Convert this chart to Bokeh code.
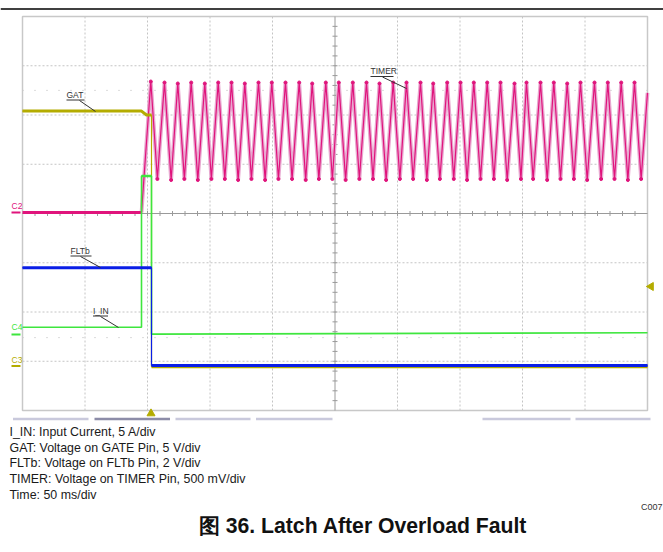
import numpy as np
from bokeh.plotting import figure
from bokeh.models import Range1d, Label
from bokeh.embed import file_html
from bokeh.resources import INLINE

# ---------------- data (scope divisions: x 0..10, y 0..8) ----------------
# GAT: Voltage on GATE pin
gat_t = [0.0, 1.904, 1.984, 2.064, 2.064, 10.0]
gat_v = [6.08, 6.08, 6.00, 6.00, 0.89, 0.89]

# FLTb: Voltage on FLTb pin
flt_t = [0.0, 2.064, 2.064, 10.0]
flt_v = [2.90, 2.90, 0.915, 0.915]

# I_IN: input current
iin_t = [0.0, 1.904, 1.904, 2.064, 2.064, 10.0]
iin_v = [1.69, 1.69, 4.76, 4.76, 1.55, 1.58]

# TIMER: baseline then oscillation (peaks / valleys)
timer_base_t = [0.0, 1.904]
timer_base_v = [4.02, 4.02]
peak_t = [2.053, 2.272, 2.485, 2.699, 2.917, 3.131, 3.344, 3.557, 3.776, 3.989,
          4.208, 4.427, 4.635, 4.853, 5.061, 5.285, 5.504, 5.712, 5.931, 6.144,
          6.368, 6.571, 6.795, 7.008, 7.221, 7.435, 7.648, 7.872, 8.064, 8.288,
          8.501, 8.715, 8.928, 9.152, 9.365, 9.579, 9.792]
peak_v = [6.68, 6.66, 6.64, 6.66, 6.64, 6.66, 6.66, 6.64, 6.66, 6.66,
          6.66, 6.66, 6.64, 6.66, 6.66, 6.66, 6.66, 6.64, 6.66, 6.66,
          6.66, 6.64, 6.66, 6.66, 6.66, 6.66, 6.66, 6.64, 6.66, 6.66,
          6.66, 6.64, 6.66, 6.66, 6.66, 6.66, 6.66]
valley_t = [2.158, 2.378, 2.590, 2.805, 3.022, 3.237, 3.450, 3.663, 3.882, 4.095,
            4.313, 4.531, 4.742, 4.958, 5.170, 5.390, 5.608, 5.818, 6.038, 6.250,
            6.470, 6.678, 6.900, 7.113, 7.328, 7.542, 7.755, 7.975, 8.170, 8.395,
            8.608, 8.822, 9.035, 9.258, 9.472, 9.686, 9.898]
valley_v = [4.70, 4.68, 4.70, 4.68, 4.70, 4.70, 4.68, 4.70, 4.68, 4.70,
            4.70, 4.68, 4.70, 4.70, 4.68, 4.70, 4.70, 4.68, 4.70, 4.70,
            4.68, 4.70, 4.70, 4.68, 4.70, 4.70, 4.68, 4.70, 4.70, 4.68,
            4.70, 4.70, 4.68, 4.70, 4.70, 4.68, 4.70]
timer_end_t = [10.0]
timer_end_v = [6.45]

legend_lines = [
    "I_IN: Input Current, 5 A/div",
    "GAT: Voltage on GATE Pin, 5 V/div",
    "FLTb: Voltage on FLTb Pin, 2 V/div",
    "TIMER: Voltage on TIMER Pin, 500 mV/div",
    "Time: 50 ms/div",
]
title_text = "图 36. Latch After Overload Fault"
code_text = "C007"

# ---------------- colours ----------------
C_GAT = "#b4ac00"
C_FLT = "#0a1ee6"
C_IIN = "#3ee63e"
C_TMR = "#e0147c"
C_TMR_L = "#e8a8d0"
GRID = "#c4c4c4"

# ---------------- figure geometry ----------------
W, H = 663, 552
PXX, PXY = 62.5, 49.25          # pixels per division
GX0, GY0 = 22, 410               # canvas px of grid origin (x=0,y=0)
x_start = -GX0 / PXX
y_end = GY0 / PXY


def ix(px):
    return (px - GX0) / PXX


def iy(py):
    return (GY0 - py) / PXY


p = figure(width=W, height=H,
           x_range=Range1d(x_start, x_start + W / PXX),
           y_range=Range1d(y_end - H / PXY, y_end),
           output_backend="svg", toolbar_location=None,
           x_axis_location=None, y_axis_location=None,
           min_border=0, outline_line_color=None)
p.grid.visible = False
p.background_fill_color = "white"
p.border_fill_color = "white"

# top rule
p.segment(x0=[x_start], y0=[iy(8.5)], x1=[x_start + W / PXX], y1=[iy(8.5)],
          line_color="black", line_width=1.6)

# dotted grid
xs = [k for k in range(1, 10) if k != 5]
ys = [k for k in range(1, 8) if k != 4]
p.segment(x0=xs, y0=[0] * len(xs), x1=xs, y1=[8] * len(xs),
          line_color=GRID, line_width=1, line_dash="2 2")
p.segment(x0=[0] * len(ys), y0=ys, x1=[10] * len(ys), y1=ys,
          line_color=GRID, line_width=1, line_dash="2 2")
# faint reference dots
p.segment(x0=[0, 0], y0=[6.5, 1.48], x1=[10, 10], y1=[6.5, 1.48],
          line_color="#b8b8b8", line_width=1, line_dash="1 11")
# border
p.rect(x=[5], y=[4], width=[10], height=[8], fill_color=None,
       line_color="#c8c8c8", line_width=1.5)
# centre axes with minor ticks
p.segment(x0=[0, 5], y0=[4, 0], x1=[10, 5], y1=[4, 8],
          line_color="#9a9a9a", line_width=1)
tx = np.arange(1, 50) * 0.2
ty = np.arange(1, 40) * 0.2
p.segment(x0=tx, y0=4 - 2.5 / PXY, x1=tx, y1=4 + 2.5 / PXY,
          line_color="#9a9a9a", line_width=1)
p.segment(x0=5 - 2.5 / PXX, y0=ty, x1=5 + 2.5 / PXX, y1=ty,
          line_color="#9a9a9a", line_width=1)

# ---------------- traces ----------------
# TIMER
osc_t = [timer_base_t[-1]]
osc_v = [timer_base_v[-1]]
for a, b, c, d in zip(peak_t, peak_v, valley_t, valley_v):
    osc_t += [a, c]
    osc_v += [b, d]
osc_t += timer_end_t
osc_v += timer_end_v
p.line(osc_t, osc_v, line_color=C_TMR_L, line_width=3.8)
p.line(osc_t, osc_v, line_color=C_TMR, line_width=1.2)
p.scatter(peak_t, peak_v, size=3, color=C_TMR, marker="circle")
p.scatter(valley_t, valley_v, size=3, color=C_TMR, marker="circle")
p.line(timer_base_t, timer_base_v, line_color=C_TMR, line_width=3)

# GAT
p.line(gat_t, gat_v, line_color=C_GAT, line_width=1.2)
p.line(gat_t[:4], gat_v[:4], line_color=C_GAT, line_width=3)
p.line(gat_t[4:], gat_v[4:], line_color=C_GAT, line_width=3)

# I_IN
p.line(iin_t, iin_v, line_color=C_IIN, line_width=1.6)
p.line(iin_t[2:4], iin_v[2:4], line_color=C_IIN, line_width=2.5)

# FLTb
p.line(flt_t, flt_v, line_color=C_FLT, line_width=1.2)
p.line(flt_t[:2], flt_v[:2], line_color=C_FLT, line_width=3)
p.line(flt_t[2:], flt_v[2:], line_color=C_FLT, line_width=3)

# ---------------- trace labels with leaders ----------------
lab_font = "Liberation Sans"
for txt, x0, x1, yc, uy, lx0, ly0, lx1, ly1 in [
    ("GAT", 66, 84, 94, 99.5, 79, 100, 95, 111),
    ("FLTb", 70, 91, 250, 255.5, 80, 256, 100, 267),
    ("I_IN", 92.5, 107.5, 310, 315.5, 100, 316, 118, 327),
    ("TIMER", 370, 393, 70.5, 76, 382, 76.5, 406, 88),
]:
    p.add_layout(Label(x=ix(x0), y=iy(yc), text=txt, text_font=lab_font,
                       text_font_size="8.5px", text_color="#333333",
                       text_baseline="middle", text_align="left"))
    p.segment(x0=[ix(x0)], y0=[iy(uy)], x1=[ix(x1)], y1=[iy(uy)],
              line_color="#333333", line_width=1)
    p.segment(x0=[ix(lx0)], y0=[iy(ly0)], x1=[ix(lx1)], y1=[iy(ly1)],
              line_color="#333333", line_width=1)

# channel markers on the left
for txt, col, ty_, my in [("C2", C_TMR, 205.5, 212), ("C4", C_IIN, 326, 334),
                          ("C3", C_GAT, 359, 365.5)]:
    p.add_layout(Label(x=ix(11), y=iy(ty_), text=txt, text_font=lab_font,
                       text_font_size="8.5px", text_color=col,
                       text_baseline="middle", text_align="left"))
    p.segment(x0=[ix(11)], y0=[iy(my)], x1=[ix(20)], y1=[iy(my)],
              line_color=col, line_width=2)

# trigger markers
p.scatter([ix(650.5)], [iy(286)], marker="triangle", angle=np.pi / 2,
          size=8, color=C_GAT)
p.scatter([ix(150.5)], [iy(413)], marker="triangle", size=8, color=C_GAT)

# status bars under the screen
bars = [(12.5, 88, "#c9c9dc"), (94, 169.5, "#8c8ca8"), (175, 250, "#c9c9dc"),
        (255.5, 332, "#c9c9dc"), (482, 570, "#c9c9dc"), (575, 650, "#c9c9dc")]
for a, b, col in bars:
    p.segment(x0=[ix(a)], y0=[iy(418.5)], x1=[ix(b)], y1=[iy(418.5)],
              line_color=col, line_width=2.5)

# ---------------- caption text ----------------
for i, t in enumerate(legend_lines):
    p.add_layout(Label(x=ix(9), y=iy(431.5 + i * 15.7), text=t,
                       text_font="Liberation Sans", text_font_size="12.4px",
                       text_color="#1a1a1a", text_baseline="middle",
                       text_align="left"))
p.add_layout(Label(x=ix(662), y=iy(506), text=code_text,
                   text_font="Liberation Sans", text_font_size="9px",
                   text_color="#333333", text_baseline="middle",
                   text_align="right"))
p.add_layout(Label(x=ix(362.5), y=iy(525), text=title_text,
                   text_font="Liberation Sans",
                   text_font_size="21.2px", text_font_style="bold",
                   text_color="#111111", text_baseline="middle",
                   text_align="center"))

open("out.html", "w").write(file_html(p, INLINE))
